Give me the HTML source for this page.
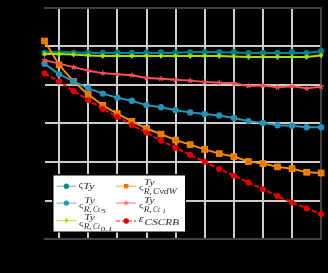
<!DOCTYPE html>
<html><head><meta charset="utf-8"><style>
html,body{margin:0;padding:0;background:#000;}
body{width:328px;height:273px;overflow:hidden;font-family:"Liberation Serif",serif;}
svg{display:block;will-change:transform;}
</style></head><body>
<svg width="328" height="273" viewBox="0 0 328 273">
<rect width="328" height="273" fill="#000"/>
<g fill="#cdcdcd"><rect x="58" y="9" width="2" height="229"/><rect x="87" y="9" width="2" height="229"/><rect x="116" y="9" width="2" height="229"/><rect x="146" y="9" width="2" height="229"/><rect x="175" y="9" width="2" height="229"/><rect x="204" y="9" width="2" height="229"/><rect x="233" y="9" width="2" height="229"/><rect x="262" y="9" width="2" height="229"/><rect x="291" y="9" width="2" height="229"/><rect x="45" y="45" width="275" height="2"/><rect x="45" y="84" width="275" height="2"/><rect x="45" y="122" width="275" height="2"/><rect x="45" y="161" width="275" height="2"/><rect x="45" y="200" width="275" height="2"/></g>
<path d="M44 7H322V240H44V238H320V9H44Z" fill="#424242"/>
<polyline points="44.50,52.00 59.06,52.00 73.62,52.30 88.19,53.00 102.75,53.00 117.31,53.00 131.88,53.00 146.44,53.00 161.00,53.00 175.56,53.00 190.12,52.00 204.69,52.00 219.25,52.20 233.81,52.50 248.38,53.00 262.94,53.00 277.50,53.00 292.06,53.00 306.62,53.00 321.19,51.10" fill="none" stroke="#008a8a" stroke-width="1.9" stroke-linejoin="round"  />
<g fill="#007d7d"><circle cx="44.50" cy="52.90" r="3.2"/><circle cx="59.06" cy="53.20" r="3.2"/><circle cx="73.62" cy="53.00" r="3.2"/><circle cx="88.19" cy="53.00" r="3.2"/><circle cx="102.75" cy="52.90" r="3.2"/><circle cx="117.31" cy="52.90" r="3.2"/><circle cx="131.88" cy="52.90" r="3.2"/><circle cx="146.44" cy="53.00" r="3.2"/><circle cx="161.00" cy="52.40" r="3.2"/><circle cx="175.56" cy="52.80" r="3.2"/><circle cx="190.12" cy="52.50" r="3.2"/><circle cx="204.69" cy="52.30" r="3.2"/><circle cx="219.25" cy="52.30" r="3.2"/><circle cx="233.81" cy="52.30" r="3.2"/><circle cx="248.38" cy="53.30" r="3.2"/><circle cx="262.94" cy="53.00" r="3.2"/><circle cx="277.50" cy="53.00" r="3.2"/><circle cx="292.06" cy="52.20" r="3.2"/><circle cx="306.62" cy="53.20" r="3.2"/><circle cx="321.19" cy="51.20" r="3.2"/></g>
<polyline points="44.50,41.00 59.06,64.80 73.62,81.50 88.19,94.50 102.75,105.30 117.31,113.60 131.88,121.30 146.44,128.50 161.00,134.10 175.56,140.10 190.12,144.60 204.69,149.40 219.25,153.60 233.81,156.50 248.38,161.50 262.94,163.50 277.50,166.90 292.06,168.70 306.62,172.30 321.19,173.00" fill="none" stroke="#ff8c00" stroke-width="1.9" stroke-linejoin="round"  />
<g fill="#e47800" stroke="#ff8c00" stroke-width="1"><rect x="41.70" y="38.20" width="5.6" height="5.6"/><rect x="56.26" y="62.00" width="5.6" height="5.6"/><rect x="70.83" y="78.70" width="5.6" height="5.6"/><rect x="85.39" y="91.70" width="5.6" height="5.6"/><rect x="99.95" y="102.50" width="5.6" height="5.6"/><rect x="114.51" y="110.80" width="5.6" height="5.6"/><rect x="129.07" y="118.50" width="5.6" height="5.6"/><rect x="143.64" y="125.70" width="5.6" height="5.6"/><rect x="158.20" y="131.30" width="5.6" height="5.6"/><rect x="172.76" y="137.30" width="5.6" height="5.6"/><rect x="187.32" y="141.80" width="5.6" height="5.6"/><rect x="201.89" y="146.60" width="5.6" height="5.6"/><rect x="216.45" y="150.80" width="5.6" height="5.6"/><rect x="231.01" y="153.70" width="5.6" height="5.6"/><rect x="245.57" y="158.70" width="5.6" height="5.6"/><rect x="260.14" y="160.70" width="5.6" height="5.6"/><rect x="274.70" y="164.10" width="5.6" height="5.6"/><rect x="289.26" y="165.90" width="5.6" height="5.6"/><rect x="303.82" y="169.50" width="5.6" height="5.6"/><rect x="318.39" y="170.20" width="5.6" height="5.6"/></g>
<polyline points="44.50,63.80 59.06,74.10 73.62,81.40 88.19,88.30 102.75,93.60 117.31,97.60 131.88,100.80 146.44,105.10 161.00,107.30 175.56,110.20 190.12,112.40 204.69,114.00 219.25,115.50 233.81,118.00 248.38,121.10 262.94,122.90 277.50,125.20 292.06,125.80 306.62,127.30 321.19,127.30" fill="none" stroke="#2896be" stroke-width="1.9" stroke-linejoin="round"  />
<g fill="#2890b8"><circle cx="44.50" cy="63.80" r="3.2"/><circle cx="59.06" cy="74.10" r="3.2"/><circle cx="73.62" cy="81.40" r="3.2"/><circle cx="88.19" cy="88.30" r="3.2"/><circle cx="102.75" cy="93.60" r="3.2"/><circle cx="117.31" cy="97.60" r="3.2"/><circle cx="131.88" cy="100.80" r="3.2"/><circle cx="146.44" cy="105.10" r="3.2"/><circle cx="161.00" cy="107.30" r="3.2"/><circle cx="175.56" cy="110.20" r="3.2"/><circle cx="190.12" cy="112.40" r="3.2"/><circle cx="204.69" cy="114.00" r="3.2"/><circle cx="219.25" cy="115.50" r="3.2"/><circle cx="233.81" cy="118.00" r="3.2"/><circle cx="248.38" cy="121.10" r="3.2"/><circle cx="262.94" cy="122.90" r="3.2"/><circle cx="277.50" cy="125.20" r="3.2"/><circle cx="292.06" cy="125.80" r="3.2"/><circle cx="306.62" cy="127.30" r="3.2"/><circle cx="321.19" cy="127.30" r="3.2"/></g>
<polyline points="44.50,60.10 59.06,63.70 73.62,67.20 88.19,70.70 102.75,73.10 117.31,74.30 131.88,75.20 146.44,78.00 161.00,78.70 175.56,79.70 190.12,80.60 204.69,81.90 219.25,82.80 233.81,83.30 248.38,86.00 262.94,85.50 277.50,87.40 292.06,86.20 306.62,88.30 321.19,86.80" fill="none" stroke="#ff5252" stroke-width="1.9" stroke-linejoin="round"  />
<g stroke="#ff5252" stroke-width="1.2" fill="none"><path d="M44.50 60.10L44.50 57.30M44.50 60.10L47.16 59.23M44.50 60.10L46.15 62.37M44.50 60.10L42.85 62.37M44.50 60.10L41.84 59.23M59.06 63.70L59.06 60.90M59.06 63.70L61.73 62.83M59.06 63.70L60.71 65.97M59.06 63.70L57.42 65.97M59.06 63.70L56.40 62.83M73.62 67.20L73.62 64.40M73.62 67.20L76.29 66.33M73.62 67.20L75.27 69.47M73.62 67.20L71.98 69.47M73.62 67.20L70.96 66.33M88.19 70.70L88.19 67.90M88.19 70.70L90.85 69.83M88.19 70.70L89.83 72.97M88.19 70.70L86.54 72.97M88.19 70.70L85.52 69.83M102.75 73.10L102.75 70.30M102.75 73.10L105.41 72.23M102.75 73.10L104.40 75.37M102.75 73.10L101.10 75.37M102.75 73.10L100.09 72.23M117.31 74.30L117.31 71.50M117.31 74.30L119.98 73.43M117.31 74.30L118.96 76.57M117.31 74.30L115.67 76.57M117.31 74.30L114.65 73.43M131.88 75.20L131.88 72.40M131.88 75.20L134.54 74.33M131.88 75.20L133.52 77.47M131.88 75.20L130.23 77.47M131.88 75.20L129.21 74.33M146.44 78.00L146.44 75.20M146.44 78.00L149.10 77.13M146.44 78.00L148.08 80.27M146.44 78.00L144.79 80.27M146.44 78.00L143.77 77.13M161.00 78.70L161.00 75.90M161.00 78.70L163.66 77.83M161.00 78.70L162.65 80.97M161.00 78.70L159.35 80.97M161.00 78.70L158.34 77.83M175.56 79.70L175.56 76.90M175.56 79.70L178.23 78.83M175.56 79.70L177.21 81.97M175.56 79.70L173.92 81.97M175.56 79.70L172.90 78.83M190.12 80.60L190.12 77.80M190.12 80.60L192.79 79.73M190.12 80.60L191.77 82.87M190.12 80.60L188.48 82.87M190.12 80.60L187.46 79.73M204.69 81.90L204.69 79.10M204.69 81.90L207.35 81.03M204.69 81.90L206.33 84.17M204.69 81.90L203.04 84.17M204.69 81.90L202.02 81.03M219.25 82.80L219.25 80.00M219.25 82.80L221.91 81.93M219.25 82.80L220.90 85.07M219.25 82.80L217.60 85.07M219.25 82.80L216.59 81.93M233.81 83.30L233.81 80.50M233.81 83.30L236.48 82.43M233.81 83.30L235.46 85.57M233.81 83.30L232.17 85.57M233.81 83.30L231.15 82.43M248.38 86.00L248.38 83.20M248.38 86.00L251.04 85.13M248.38 86.00L250.02 88.27M248.38 86.00L246.73 88.27M248.38 86.00L245.71 85.13M262.94 85.50L262.94 82.70M262.94 85.50L265.60 84.63M262.94 85.50L264.58 87.77M262.94 85.50L261.29 87.77M262.94 85.50L260.27 84.63M277.50 87.40L277.50 84.60M277.50 87.40L280.16 86.53M277.50 87.40L279.15 89.67M277.50 87.40L275.85 89.67M277.50 87.40L274.84 86.53M292.06 86.20L292.06 83.40M292.06 86.20L294.73 85.33M292.06 86.20L293.71 88.47M292.06 86.20L290.42 88.47M292.06 86.20L289.40 85.33M306.62 88.30L306.62 85.50M306.62 88.30L309.29 87.43M306.62 88.30L308.27 90.57M306.62 88.30L304.98 90.57M306.62 88.30L303.96 87.43M321.19 86.80L321.19 84.00M321.19 86.80L323.85 85.93M321.19 86.80L322.83 89.07M321.19 86.80L319.54 89.07M321.19 86.80L318.52 85.93"/></g>
<polyline points="44.50,54.00 59.06,54.00 73.62,54.50 88.19,55.50 102.75,56.00 117.31,56.00 131.88,56.00 146.44,56.00 161.00,56.00 175.56,56.00 190.12,56.00 204.69,56.00 219.25,56.00 233.81,56.50 248.38,57.00 262.94,57.00 277.50,57.00 292.06,57.00 306.62,57.00 321.19,55.30" fill="none" stroke="#aadc00" stroke-width="2.2" stroke-linejoin="round"  />
<g fill="#aadc00"><path d="M44.50 51.10L46.70 54.00L44.50 56.90L42.30 54.00ZM59.06 51.10L61.26 54.00L59.06 56.90L56.86 54.00ZM73.62 51.60L75.83 54.50L73.62 57.40L71.42 54.50ZM88.19 52.60L90.39 55.50L88.19 58.40L85.99 55.50ZM102.75 53.10L104.95 56.00L102.75 58.90L100.55 56.00ZM117.31 53.10L119.51 56.00L117.31 58.90L115.11 56.00ZM131.88 53.10L134.07 56.00L131.88 58.90L129.68 56.00ZM146.44 53.10L148.64 56.00L146.44 58.90L144.24 56.00ZM161.00 53.10L163.20 56.00L161.00 58.90L158.80 56.00ZM175.56 53.10L177.76 56.00L175.56 58.90L173.36 56.00ZM190.12 53.10L192.32 56.00L190.12 58.90L187.93 56.00ZM204.69 53.10L206.89 56.00L204.69 58.90L202.49 56.00ZM219.25 53.10L221.45 56.00L219.25 58.90L217.05 56.00ZM233.81 53.60L236.01 56.50L233.81 59.40L231.61 56.50ZM248.38 54.10L250.57 57.00L248.38 59.90L246.18 57.00ZM262.94 54.10L265.14 57.00L262.94 59.90L260.74 57.00ZM277.50 54.10L279.70 57.00L277.50 59.90L275.30 57.00ZM292.06 54.10L294.26 57.00L292.06 59.90L289.86 57.00ZM306.62 54.10L308.82 57.00L306.62 59.90L304.43 57.00ZM321.19 52.40L323.39 55.30L321.19 58.20L318.99 55.30Z"/></g>
<polyline points="44.50,73.40 59.06,81.40 73.62,91.00 88.19,100.00 102.75,108.80 117.31,116.80 131.88,125.10 146.44,132.60 161.00,140.60 175.56,147.70 190.12,154.90 204.69,161.70 219.25,169.00 233.81,175.60 248.38,182.40 262.94,189.20 277.50,196.10 292.06,202.50 306.62,208.40 321.19,214.00" fill="none" stroke="#ff0000" stroke-width="1.9" stroke-linejoin="round"  stroke-dasharray="5 2"/>
<g fill="#dc0000" stroke="#ff0000" stroke-width="1"><circle cx="44.50" cy="73.40" r="2.6"/><circle cx="59.06" cy="81.40" r="2.6"/><circle cx="73.62" cy="91.00" r="2.6"/><circle cx="88.19" cy="100.00" r="2.6"/><circle cx="102.75" cy="108.80" r="2.6"/><circle cx="117.31" cy="116.80" r="2.6"/><circle cx="131.88" cy="125.10" r="2.6"/><circle cx="146.44" cy="132.60" r="2.6"/><circle cx="161.00" cy="140.60" r="2.6"/><circle cx="175.56" cy="147.70" r="2.6"/><circle cx="190.12" cy="154.90" r="2.6"/><circle cx="204.69" cy="161.70" r="2.6"/><circle cx="219.25" cy="169.00" r="2.6"/><circle cx="233.81" cy="175.60" r="2.6"/><circle cx="248.38" cy="182.40" r="2.6"/><circle cx="262.94" cy="189.20" r="2.6"/><circle cx="277.50" cy="196.10" r="2.6"/><circle cx="292.06" cy="202.50" r="2.6"/><circle cx="306.62" cy="208.40" r="2.6"/><circle cx="321.19" cy="214.00" r="2.6"/></g>
<rect x="52" y="174" width="134" height="58.5" fill="#000"/><rect x="53.5" y="175.5" width="131.5" height="56" fill="#fff"/>
<g stroke-width="1">
<line x1="56.5" y1="186.2" x2="76.3" y2="186.2" stroke="#008a8a" stroke-opacity="0.6"/>
<circle cx="66.4" cy="186.2" r="2.7" fill="#008a8a"/>
<line x1="56.5" y1="203.1" x2="76.3" y2="203.1" stroke="#2896be" stroke-opacity="0.7"/>
<circle cx="66.4" cy="203.1" r="2.7" fill="#2896be"/>
<line x1="56.5" y1="220.6" x2="76.3" y2="220.6" stroke="#aadc00" stroke-opacity="0.8"/>
<path d="M66.4 217.8L68.4 220.6L66.4 223.4L64.4 220.6Z" fill="#aadc00"/>
<line x1="116" y1="186.2" x2="136" y2="186.2" stroke="#ff8c00" stroke-opacity="0.8"/>
<rect x="124" y="184" width="4.4" height="4.4" fill="#e47800"/>
<line x1="116" y1="203.1" x2="136" y2="203.1" stroke="#ff5252" stroke-opacity="0.8"/>
<path d="M126.20 203.10L126.20 200.50M126.20 203.10L128.67 202.30M126.20 203.10L127.73 205.20M126.20 203.10L124.67 205.20M126.20 203.10L123.73 202.30" stroke="#ff5252" fill="none"/>
<line x1="116" y1="221" x2="136" y2="221" stroke="#ff0000" stroke-dasharray="4 2" stroke-opacity="0.9"/>
<circle cx="126.2" cy="221" r="2.7" fill="#dc0000"/>
</g>
<g font-family="Liberation Serif" font-style="italic" fill="#2e2e2e"><text x="78.8" y="188.3" font-size="10" textLength="4" lengthAdjust="spacingAndGlyphs" font-style="normal">&#962;</text><text x="83" y="189" font-size="9" textLength="11.7" lengthAdjust="spacingAndGlyphs">Ty</text><text x="84.3" y="202.6" font-size="7.9" textLength="10.7" lengthAdjust="spacingAndGlyphs">Ty</text><text x="79" y="208.0" font-size="8.5" textLength="4.3" lengthAdjust="spacingAndGlyphs" font-style="normal">&#962;</text><text x="83.7" y="211.5" font-size="7.7" textLength="8" lengthAdjust="spacingAndGlyphs">R,</text><text x="93.1" y="211.5" font-size="7.5" textLength="6.8" lengthAdjust="spacingAndGlyphs">Ct</text><text x="100.4" y="212.6" font-size="6.4" textLength="5.4" lengthAdjust="spacingAndGlyphs">5</text><text x="84.3" y="220.41" font-size="7.9" textLength="10.7" lengthAdjust="spacingAndGlyphs">Ty</text><text x="79" y="225.81" font-size="8.5" textLength="4.3" lengthAdjust="spacingAndGlyphs" font-style="normal">&#962;</text><text x="83.7" y="229.4" font-size="7.7" textLength="8" lengthAdjust="spacingAndGlyphs">R,</text><text x="93.1" y="229.4" font-size="7.5" textLength="6.8" lengthAdjust="spacingAndGlyphs">Ct</text><text x="100.4" y="230.5" font-size="6.4" textLength="12.2" lengthAdjust="spacingAndGlyphs">0.1</text><text x="144" y="185.2" font-size="7.9" textLength="10.7" lengthAdjust="spacingAndGlyphs">Ty</text><text x="138.9" y="189.87" font-size="8.5" textLength="4.4" lengthAdjust="spacingAndGlyphs" font-style="normal">&#962;</text><text x="143.7" y="193.9" font-size="7.7" textLength="8" lengthAdjust="spacingAndGlyphs">R,</text><text x="153" y="193.9" font-size="7.5" textLength="23.8" lengthAdjust="spacingAndGlyphs">CvdW</text><text x="144" y="202.8" font-size="7.9" textLength="10.7" lengthAdjust="spacingAndGlyphs">Ty</text><text x="138.9" y="208.0" font-size="8.5" textLength="4.4" lengthAdjust="spacingAndGlyphs" font-style="normal">&#962;</text><text x="143.7" y="211.5" font-size="7.7" textLength="8" lengthAdjust="spacingAndGlyphs">R,</text><text x="153.1" y="211.5" font-size="7.5" textLength="6.8" lengthAdjust="spacingAndGlyphs">Ct</text><text x="162.4" y="212.6" font-size="6.4" textLength="3.4" lengthAdjust="spacingAndGlyphs">1</text><text x="138.7" y="221.9" font-size="11" textLength="4.9" lengthAdjust="spacingAndGlyphs">&#949;</text><text x="144.6" y="224.6" font-size="8.7" textLength="34.6" lengthAdjust="spacingAndGlyphs">CSCRB</text></g>
</svg>
</body></html>
